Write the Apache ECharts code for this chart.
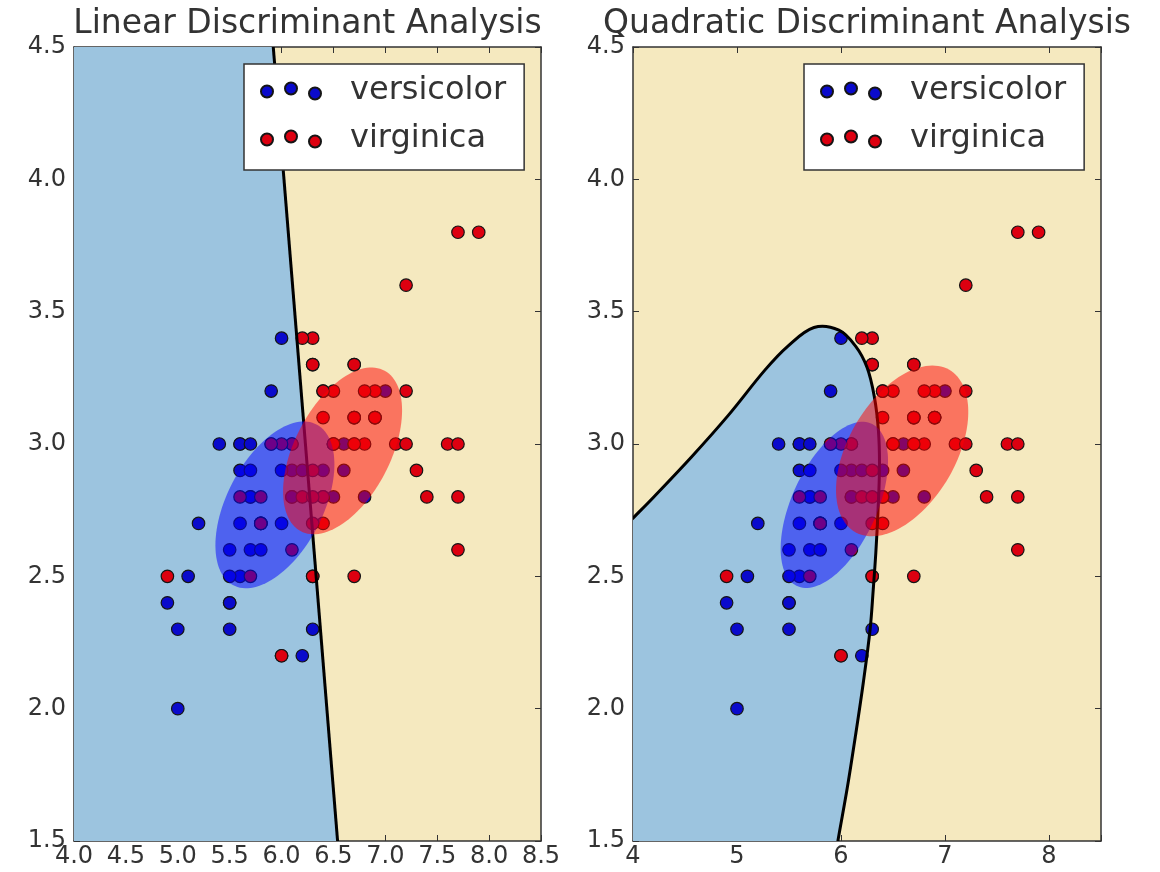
<!DOCTYPE html>
<html>
<head>
<meta charset="utf-8">
<script src="https://cdn.jsdelivr.net/npm/echarts@6/dist/echarts.min.js"></script>
<style>
html, body { margin: 0; padding: 0; background: #fff; }
#main { width: 1160px; height: 872px; }
</style>
</head>
<body>
<div id="main"></div>
<script>
// iris: sepal length (x) / sepal width (y)
var versicolorX = [7.0, 6.4, 6.9, 5.5, 6.5, 5.7, 6.3, 4.9, 6.6, 5.2, 5.0, 5.9, 6.0, 6.1, 5.6, 6.7, 5.6, 5.8, 6.2, 5.6,
    5.9, 6.1, 6.3, 6.1, 6.4, 6.6, 6.8, 6.7, 6.0, 5.7, 5.5, 5.5, 5.8, 6.0, 5.4, 6.0, 6.7, 6.3, 5.6, 5.5,
    5.5, 6.1, 5.8, 5.0, 5.6, 5.7, 5.7, 6.2, 5.1, 5.7];
var versicolorY = [3.2, 3.2, 3.1, 2.3, 2.8, 2.8, 3.3, 2.4, 2.9, 2.7, 2.0, 3.0, 2.2, 2.9, 2.9, 3.1, 3.0, 2.7, 2.2, 2.5,
    3.2, 2.8, 2.5, 2.8, 2.9, 3.0, 2.8, 3.0, 2.9, 2.6, 2.4, 2.4, 2.7, 2.7, 3.0, 3.4, 3.1, 2.3, 3.0, 2.5,
    2.6, 3.0, 2.6, 2.3, 2.7, 3.0, 2.9, 2.9, 2.5, 2.8];
var virginicaX = [6.3, 5.8, 7.1, 6.3, 6.5, 7.6, 4.9, 7.3, 6.7, 7.2, 6.5, 6.4, 6.8, 5.7, 5.8, 6.4, 6.5, 7.7, 7.7, 6.0,
    6.9, 5.6, 7.7, 6.3, 6.7, 7.2, 6.2, 6.1, 6.4, 7.2, 7.4, 7.9, 6.4, 6.3, 6.1, 7.7, 6.3, 6.4, 6.0, 6.9,
    6.7, 6.9, 5.8, 6.8, 6.7, 6.7, 6.3, 6.5, 6.2, 5.9];
var virginicaY = [3.3, 2.7, 3.0, 2.9, 3.0, 3.0, 2.5, 2.9, 2.5, 3.6, 3.2, 2.7, 3.0, 2.5, 2.8, 3.2, 3.0, 3.8, 2.6, 2.2,
    3.2, 2.8, 2.8, 2.7, 3.3, 3.2, 2.8, 3.0, 2.8, 3.0, 2.8, 3.8, 2.8, 2.8, 2.6, 3.0, 3.4, 3.1, 3.0, 3.1,
    3.1, 3.1, 2.7, 3.2, 3.3, 3.0, 2.5, 3.0, 3.4, 3.0];

// decision boundaries (first/last QDA points run just past the frame)
var ldaBoundaryX = [5.92, 6.54];
var ldaBoundaryY = [4.5, 1.5];
var qdaBoundaryX = [3.80, 4.00, 4.20, 4.56, 4.92, 5.27, 5.49, 5.74, 5.98, 6.14, 6.25, 6.32, 6.36, 6.37, 6.355, 6.335, 6.31, 6.28, 6.215, 6.14, 6.06, 5.97, 5.93];
var qdaBoundaryY = [2.64, 2.72, 2.80, 2.95, 3.11, 3.28, 3.37, 3.44, 3.43, 3.37, 3.29, 3.18, 3.05, 2.91, 2.74, 2.59, 2.45, 2.30, 2.10, 1.90, 1.70, 1.50, 1.40];

var xRange = [4.0, 8.5];
var yRange = [1.5, 4.5];
var classNames = ['versicolor', 'virginica'];

var FONT = 'DejaVu Sans';
var blueRegion = '#9cc4df';
var yellowRegion = '#f5e9bf';
var blueDot = '#0a0acc';
var redDot = '#dd0010';

function pairs(xs, ys) {
    return xs.map(function (x, i) { return [x, ys[i]]; });
}

// mean and covariance of one class
function stats(xs, ys, ddof) {
    var n = xs.length, mx = 0, my = 0;
    for (var i = 0; i < n; i++) { mx += xs[i]; my += ys[i]; }
    mx /= n; my /= n;
    var sxx = 0, syy = 0, sxy = 0;
    for (i = 0; i < n; i++) {
        sxx += (xs[i] - mx) * (xs[i] - mx);
        syy += (ys[i] - my) * (ys[i] - my);
        sxy += (xs[i] - mx) * (ys[i] - my);
    }
    var d = n - ddof;
    return { mean: [mx, my], cov: [[sxx / d, sxy / d], [sxy / d, syy / d]] };
}

var verBiased = stats(versicolorX, versicolorY, 0);
var virBiased = stats(virginicaX, virginicaY, 0);
var pooled = [[(verBiased.cov[0][0] + virBiased.cov[0][0]) / 2, (verBiased.cov[0][1] + virBiased.cov[0][1]) / 2],
              [(verBiased.cov[1][0] + virBiased.cov[1][0]) / 2, (verBiased.cov[1][1] + virBiased.cov[1][1]) / 2]];
var verStats = stats(versicolorX, versicolorY, 1);
var virStats = stats(virginicaX, virginicaY, 1);

function ellipseSeries(mean, cov, color, gi) {
    return {
        type: 'custom', xAxisIndex: gi * 2, yAxisIndex: gi * 2, clip: true, silent: true, z: 4,
        data: [mean],
        renderItem: function (params, api) {
            var a = Math.sqrt(cov[0][0]);
            var b = cov[0][1] / a;
            var c = Math.sqrt(cov[1][1] - b * b);
            var pts = [];
            for (var k = 0; k < 120; k++) {
                var t = 2 * Math.PI * k / 120;
                pts.push(api.coord([mean[0] + a * Math.cos(t), mean[1] + b * Math.cos(t) + c * Math.sin(t)]));
            }
            return { type: 'polygon', shape: { points: pts }, style: { fill: color } };
        }
    };
}

// blue decision region (polygon) or boundary stroke (polyline), same smoothing for both
function boundaryShape(pts, gi, closed, smooth) {
    return {
        type: 'custom', xAxisIndex: gi * 2, yAxisIndex: gi * 2, clip: true, silent: true, z: closed ? 1 : 3,
        data: [pts[0]],
        renderItem: function (params, api) {
            var px = pts.map(function (p) { return api.coord(p); });
            if (closed) {
                return { type: 'polygon', shape: { points: px, smooth: smooth }, style: { fill: blueRegion } };
            }
            return { type: 'polyline', shape: { points: px, smooth: smooth }, style: { fill: null, stroke: '#000', lineWidth: 3 } };
        }
    };
}

function scatterSeries(name, xs, ys, color, gi) {
    return {
        type: 'scatter', name: name, xAxisIndex: gi * 2, yAxisIndex: gi * 2, z: 2,
        data: pairs(xs, ys), symbolSize: 12.5,
        itemStyle: { color: color, borderColor: '#151515', borderWidth: 1.2, opacity: 1 }
    };
}

var axisLineStyle = { show: true, onZero: false, lineStyle: { color: '#333', width: 1.5 } };
var tickStyle = { show: true, inside: true, length: 6, lineStyle: { color: '#333', width: 1 } };
var labelStyle = { fontFamily: FONT, fontSize: 24, color: '#333' };

function xAxis(gi, pos, interval, fmt) {
    return {
        type: 'value', gridIndex: gi, position: pos, min: xRange[0], max: xRange[1], interval: interval,
        axisLine: axisLineStyle, axisTick: tickStyle, splitLine: { show: false },
        axisLabel: pos === 'bottom' ? Object.assign({ margin: 4, formatter: fmt, showMaxLabel: true, showMinLabel: true }, labelStyle) : { show: false }
    };
}
function yAxis(gi, pos) {
    return {
        type: 'value', gridIndex: gi, position: pos, min: yRange[0], max: yRange[1], interval: 0.5,
        axisLine: axisLineStyle, axisTick: tickStyle, splitLine: { show: false },
        axisLabel: pos === 'left' ? Object.assign({ margin: 8, formatter: function (v) { return v.toFixed(1); } }, labelStyle) : { show: false }
    };
}

var leftFmt = function (v) { return v.toFixed(1); };
var rightFmt = function (v) { return v > 8.25 ? '' : String(Math.round(v)); };

var dotsPath = 'path://M0,9a6,6 0 1,0 12,0a6,6 0 1,0 -12,0Z M24,6a6,6 0 1,0 12,0a6,6 0 1,0 -12,0Z M48,11a6,6 0 1,0 12,0a6,6 0 1,0 -12,0Z';

function legendAt(left) {
    return {
        data: classNames, orient: 'vertical', left: left, top: 64,
        icon: dotsPath, itemWidth: 60, itemHeight: 17, itemGap: 12,
        padding: [9, 18, 13, 16], selectedMode: false,
        backgroundColor: '#fff', borderColor: '#333', borderWidth: 1.5, borderRadius: 0, z: 10,
        textStyle: { fontFamily: FONT, fontSize: 32, color: '#333', lineHeight: 36, padding: [0, 0, 0, 24] }
    };
}

var chart = echarts.init(document.getElementById('main'));

var ldaRegion = [[xRange[0], yRange[1]], [ldaBoundaryX[0], ldaBoundaryY[0]], [ldaBoundaryX[1], ldaBoundaryY[1]], [xRange[0], yRange[0]]];
var qdaLine = pairs(qdaBoundaryX, qdaBoundaryY);
var qdaRegion = qdaLine.concat([[qdaBoundaryX[0], qdaBoundaryY[qdaBoundaryY.length - 1]]]);

var option = {
    animation: false,
    backgroundColor: '#fff',
    grid: [
        { left: 74, top: 47, width: 467, height: 794, show: true, backgroundColor: yellowRegion, borderWidth: 0 },
        { left: 633, top: 47, width: 468, height: 794, show: true, backgroundColor: yellowRegion, borderWidth: 0 }
    ],
    xAxis: [xAxis(0, 'bottom', 0.5, leftFmt), xAxis(0, 'top', 0.5, leftFmt), xAxis(1, 'bottom', 1, rightFmt), xAxis(1, 'top', 1, rightFmt)],
    yAxis: [yAxis(0, 'left'), yAxis(0, 'right'), yAxis(1, 'left'), yAxis(1, 'right')],
    legend: [legendAt(244), legendAt(804)],
    graphic: [
        { type: 'text', x: 307.5, y: 24, style: { text: 'Linear Discriminant Analysis', font: '33px "DejaVu Sans"', fill: '#333', textAlign: 'center', textVerticalAlign: 'middle' } },
        { type: 'text', x: 867, y: 24, style: { text: 'Quadratic Discriminant Analysis', font: '33px "DejaVu Sans"', fill: '#333', textAlign: 'center', textVerticalAlign: 'middle' } }
    ],
    series: [
        boundaryShape(ldaRegion, 0, true, 0),
        scatterSeries(classNames[0], versicolorX, versicolorY, blueDot, 0),
        scatterSeries(classNames[1], virginicaX, virginicaY, redDot, 0),
        boundaryShape(pairs(ldaBoundaryX, ldaBoundaryY), 0, false, 0),
        ellipseSeries(verBiased.mean, pooled, 'rgba(0,0,255,0.5)', 0),
        ellipseSeries(virBiased.mean, pooled, 'rgba(255,0,0,0.5)', 0),

        boundaryShape(qdaRegion, 1, true, 0.35),
        scatterSeries(classNames[0], versicolorX, versicolorY, blueDot, 1),
        scatterSeries(classNames[1], virginicaX, virginicaY, redDot, 1),
        boundaryShape(qdaLine, 1, false, 0.35),
        ellipseSeries(verStats.mean, verStats.cov, 'rgba(0,0,255,0.5)', 1),
        ellipseSeries(virStats.mean, virStats.cov, 'rgba(255,0,0,0.5)', 1)
    ]
};

chart.setOption(option);
</script>
</body>
</html>
